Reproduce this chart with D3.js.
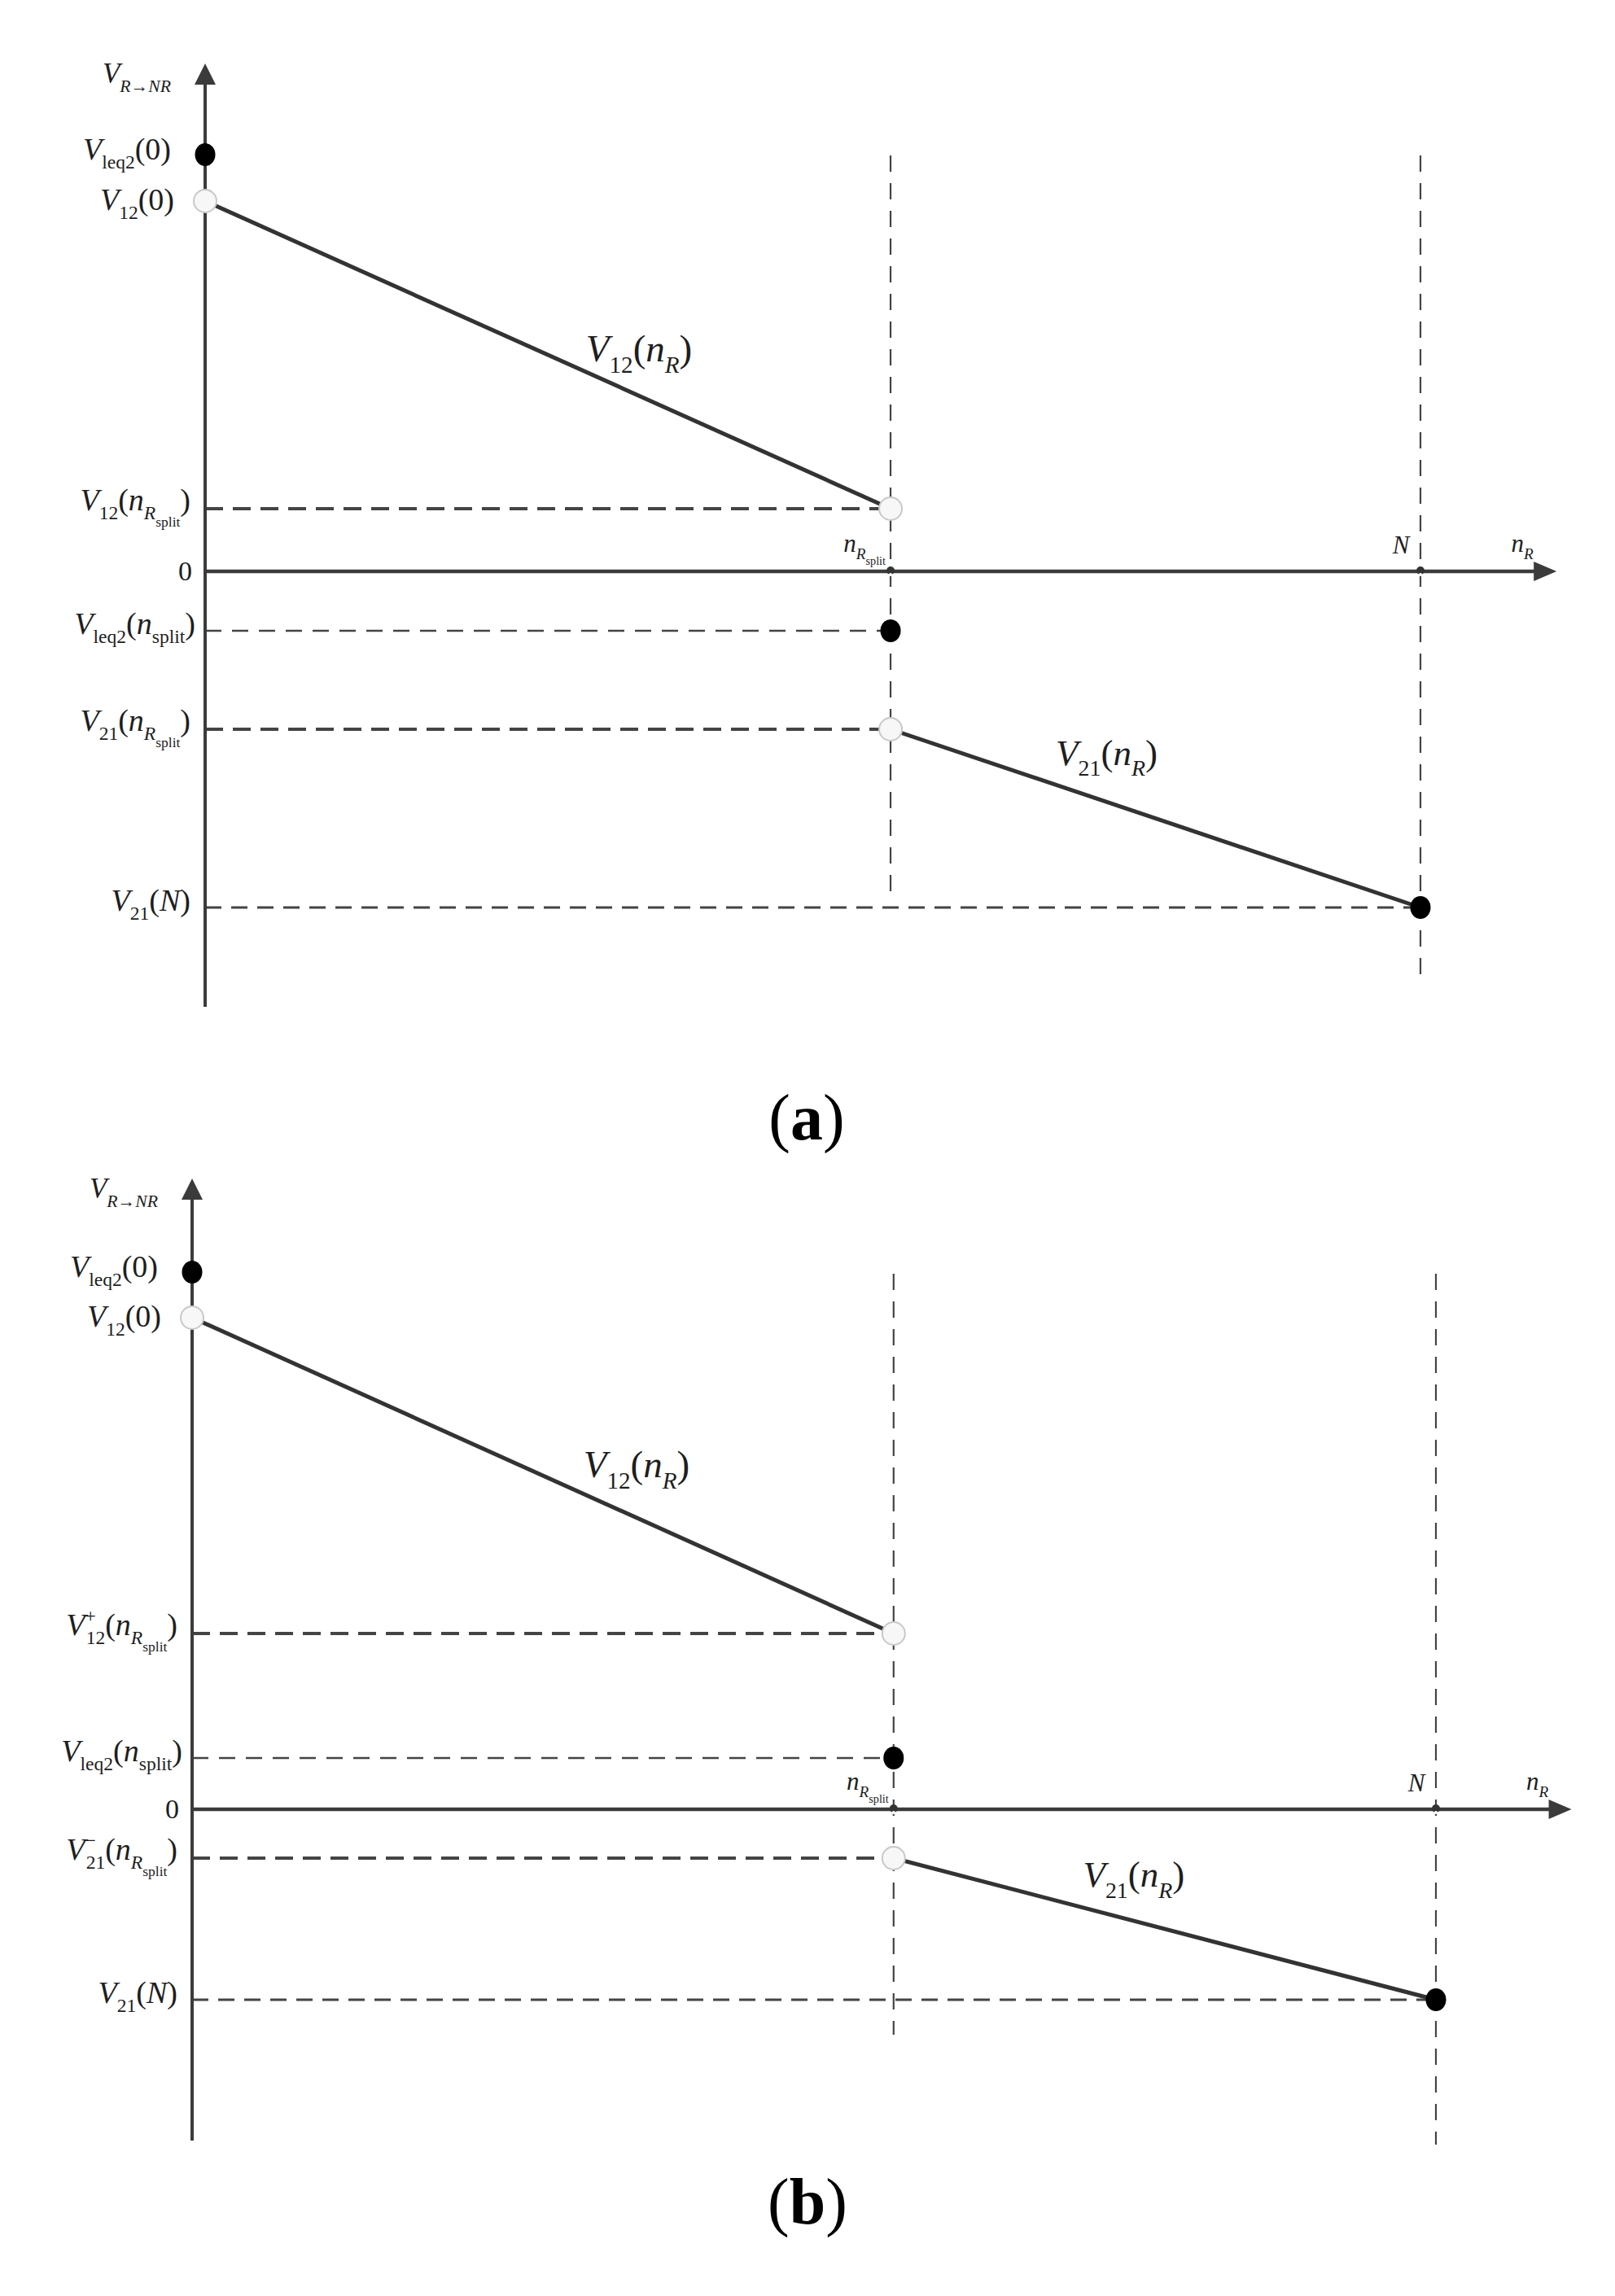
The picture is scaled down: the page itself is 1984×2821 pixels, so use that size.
<!DOCTYPE html>
<html>
<head>
<meta charset="utf-8">
<script src="https://cdn.jsdelivr.net/npm/d3@7"></script>
<style>
  html, body { margin: 0; padding: 0; background: #ffffff; }
  svg { display: block; }
</style>
</head>
<body>
<script>
// ---------------- DATA (n axis normalised so N = 100) ----------------
const panelIds      = ["a", "b"];
const nSplit        = [56.4, 56.4];     // n_R split position
const nEnd          = [100, 100];       // N
const xAxisEnd      = [111.2, 110.9];   // end of the n_R axis arrow
const v12At0        = [4.55, 6.04];     // V12(0)        (open circle)
const vLeq2At0      = [5.12, 6.60];     // V_leq2(0)     (filled circle)
const v12AtSplit    = [0.77, 2.16];     // V12(n_Rsplit) (open circle)
const vLeq2AtSplit  = [-0.73, 0.63];    // V_leq2(n_split) (filled circle)
const v21AtSplit    = [-1.94, -0.60];   // V21(n_Rsplit) (open circle)
const v21AtN        = [-4.13, -2.34];   // V21(N)        (filled circle)
const yAxisExtent   = [[-5.35, 6.24], [-4.07, 7.75]];  // bottom / arrow tip of vertical axis
const guideTop      = [5.11, 6.58];     // top of the vertical dashed guides
const splitGuideBot = [-4.02, -2.77];
const endGuideBot   = [-5.01, -4.12];
const captions      = ["a", "b"];

// ---------------- LAYOUT ----------------
const W = 1984, H = 2821;
const xRanges = [[252, 1745], [236, 1764]];
const yRanges = [[1237, 78], [2630, 1448]];
const captionPos = [[991, 1400], [992, 2732]];
const v12LabelShift = [[112, 8], [115, 2]];
const v21LabelShift = [[-60, -66], [-38, -52]];

const AX = "#3b3b3b", LINE = "#333333", TXT = "#1e1e1e";
const FONT = "'Liberation Serif','Times New Roman',Times,serif";

const svg = d3.select("body").append("svg").attr("width", W).attr("height", H);
svg.append("rect").attr("width", W).attr("height", H).attr("fill", "#fff");

function mathText(sel, x, y, tokens, size, anchor) {
  const t = sel.append("text")
    .attr("x", x).attr("y", y)
    .attr("text-anchor", anchor || "end")
    .attr("fill", TXT)
    .style("font-family", FONT)
    .attr("font-size", size);
  const off = { 0: 0, sub: 0.30, subsub: 0.52, sup: -0.42 };
  const sc  = { 0: 1, sub: 0.62, subsub: 0.46, sup: 0.62 };
  let cur = 0;
  tokens.forEach(([txt, st, lv, dx]) => {
    const target = off[lv] * size;
    const ts = t.append("tspan").text(txt)
      .attr("dy", (target - cur).toFixed(2))
      .attr("font-size", (sc[lv] * size).toFixed(2))
      .attr("font-style", st === "i" ? "italic" : "normal");
    if (dx) ts.attr("dx", (dx * size).toFixed(2));
    cur = target;
  });
  return t;
}

// label token sets
const L = {
  yAxis:   [["V","i",0],["R→NR","i","sub"]],
  vLeq2_0: [["V","i",0],["leq2","r","sub"],["(0)","r",0]],
  v12_0:   [["V","i",0],["12","r","sub"],["(0)","r",0]],
  v12s: (i) => i === 0
    ? [["V","i",0],["12","r","sub"],["(","r",0],["n","i",0],["R","i","sub"],["split","r","subsub"],[")","r",0]]
    : [["V","i",0],["+","r","sup"],["12","r","sub",-0.32],["(","r",0],["n","i",0],["R","i","sub"],["split","r","subsub"],[")","r",0]],
  vLeq2s:  [["V","i",0],["leq2","r","sub"],["(","r",0],["n","i",0],["split","r","sub"],[")","r",0]],
  v21s: (i) => i === 0
    ? [["V","i",0],["21","r","sub"],["(","r",0],["n","i",0],["R","i","sub"],["split","r","subsub"],[")","r",0]]
    : [["V","i",0],["−","r","sup"],["21","r","sub",-0.32],["(","r",0],["n","i",0],["R","i","sub"],["split","r","subsub"],[")","r",0]],
  v21N:    [["V","i",0],["21","r","sub"],["(","r",0],["N","i",0],[")","r",0]],
  v12n:    [["V","i",0],["12","r","sub"],["(","r",0],["n","i",0],["R","i","sub"],[")","r",0]],
  v21n:    [["V","i",0],["21","r","sub"],["(","r",0],["n","i",0],["R","i","sub"],[")","r",0]],
  nSplit:  [["n","i",0],["R","i","sub"],["split","r","subsub"]],
  N:       [["N","i",0]],
  nR:      [["n","i",0],["R","i","sub"]]
};

panelIds.forEach((pid, i) => {
  const g = svg.append("g").attr("class", "panel-" + pid);
  const x = d3.scaleLinear().domain([0, nEnd[i]]).range(xRanges[i]);
  const y = d3.scaleLinear().domain(yAxisExtent[i]).range(yRanges[i]);
  const x0 = x(0), y0 = y(0);

  // vertical dashed guides
  [[nSplit[i], splitGuideBot[i]], [nEnd[i], endGuideBot[i]]].forEach(([n, bot]) => {
    g.append("line")
      .attr("x1", x(n)).attr("x2", x(n))
      .attr("y1", y(guideTop[i])).attr("y2", y(bot))
      .attr("stroke", "#444").attr("stroke-width", 2.2)
      .attr("stroke-dasharray", "20,14");
  });

  // horizontal dashed guides
  const hGuides = [
    { v: v12AtSplit[i],   n: nSplit[i], w: 4,   dash: "22,12" },
    { v: vLeq2AtSplit[i], n: nSplit[i], w: 2.6, dash: "20,13" },
    { v: v21AtSplit[i],   n: nSplit[i], w: 4,   dash: "22,12" },
    { v: v21AtN[i],       n: nEnd[i],   w: 3.2, dash: "20,12" }
  ];
  hGuides.forEach(h => {
    g.append("line")
      .attr("x1", x0).attr("x2", x(h.n))
      .attr("y1", y(h.v)).attr("y2", y(h.v))
      .attr("stroke", "#444").attr("stroke-width", h.w)
      .attr("stroke-dasharray", h.dash);
  });

  // vertical axis with arrow
  const yTop = y(yAxisExtent[i][1]);
  g.append("line")
    .attr("x1", x0).attr("x2", x0)
    .attr("y1", y(yAxisExtent[i][0])).attr("y2", yTop + 20)
    .attr("stroke", AX).attr("stroke-width", 4);
  g.append("path")
    .attr("d", `M${x0},${yTop} L${x0 - 13},${yTop + 26} L${x0 + 13},${yTop + 26} Z`)
    .attr("fill", AX);

  // horizontal axis with arrow
  const xTip = x(xAxisEnd[i]);
  g.append("line")
    .attr("x1", x0).attr("x2", xTip - 22)
    .attr("y1", y0).attr("y2", y0)
    .attr("stroke", AX).attr("stroke-width", 4.5);
  g.append("path")
    .attr("d", `M${xTip},${y0} L${xTip - 28},${y0 - 12} L${xTip - 28},${y0 + 12} Z`)
    .attr("fill", AX);

  // tick bumps at n_Rsplit and N
  [nSplit[i], nEnd[i]].forEach(n => {
    g.append("circle").attr("cx", x(n)).attr("cy", y0 - 1).attr("r", 5).attr("fill", "#333");
    g.append("circle").attr("cx", x(n)).attr("cy", y0 + 4).attr("r", 2).attr("fill", "#fff");
  });

  // function lines
  const line = d3.line().x(d => x(d[0])).y(d => y(d[1]));
  g.append("path").datum([[0, v12At0[i]], [nSplit[i], v12AtSplit[i]]])
    .attr("d", line).attr("fill", "none").attr("stroke", LINE).attr("stroke-width", 5);
  g.append("path").datum([[nSplit[i], v21AtSplit[i]], [nEnd[i], v21AtN[i]]])
    .attr("d", line).attr("fill", "none").attr("stroke", LINE).attr("stroke-width", 5);

  // dots
  const openDots = [[0, v12At0[i]], [nSplit[i], v12AtSplit[i]], [nSplit[i], v21AtSplit[i]]];
  const filledDots = [[0, vLeq2At0[i]], [nSplit[i], vLeq2AtSplit[i]], [nEnd[i], v21AtN[i]]];
  g.selectAll(".open").data(openDots).enter().append("circle")
    .attr("cx", d => x(d[0])).attr("cy", d => y(d[1])).attr("r", 14)
    .attr("fill", "#f7f7f7").attr("stroke", "#c8c8c8").attr("stroke-width", 2);
  g.selectAll(".filled").data(filledDots).enter().append("ellipse")
    .attr("cx", d => x(d[0])).attr("cy", d => y(d[1])).attr("rx", 12.5).attr("ry", 14)
    .attr("fill", "#000");

  // vertical-axis labels
  const fs = 38;
  mathText(g, x0 - 42, yTop + 24, L.yAxis, 35, "end");
  mathText(g, x0 - 42, y(vLeq2At0[i]) + 6, L.vLeq2_0, fs, "end");
  mathText(g, x0 - 38, y(v12At0[i]) + 11, L.v12_0, fs, "end");
  mathText(g, x0 - 18, y(v12AtSplit[i]) + 2, L.v12s(i), fs, "end");
  mathText(g, x0 - 12, y(vLeq2AtSplit[i]) + 4, L.vLeq2s, fs, "end");
  mathText(g, x0 - 18, y(v21AtSplit[i]) + 2, L.v21s(i), fs, "end");
  mathText(g, x0 - 18, y(v21AtN[i]) + 4, L.v21N, fs, "end");
  g.append("text").attr("x", x0 - 16).attr("y", y0 + 11).attr("text-anchor", "end")
    .style("font-family", FONT).attr("font-size", 34).attr("fill", TXT).text("0");

  // horizontal-axis labels
  mathText(g, x(nSplit[i]) - 6, y0 - 24, L.nSplit, 31, "end");
  mathText(g, x(nEnd[i]) - 24, y0 - 22, L.N, 31, "middle");
  mathText(g, xTip - 42, y0 - 24, L.nR, 31, "middle");

  // curve labels
  const mid12 = [(0 + nSplit[i]) / 2, (v12At0[i] + v12AtSplit[i]) / 2];
  const mid21 = [(nSplit[i] + nEnd[i]) / 2, (v21AtSplit[i] + v21AtN[i]) / 2];
  mathText(g, x(mid12[0]) + v12LabelShift[i][0], y(mid12[1]) + v12LabelShift[i][1], L.v12n, 47, "middle");
  mathText(g, x(mid21[0]) + v21LabelShift[i][0], y(mid21[1]) + v21LabelShift[i][1], L.v21n, 45, "middle");

  // caption
  const cap = g.append("text")
    .attr("x", captionPos[i][0]).attr("y", captionPos[i][1])
    .attr("text-anchor", "middle").attr("fill", "#000")
    .style("font-family", FONT).attr("font-size", 80);
  cap.append("tspan").text("(");
  cap.append("tspan").attr("font-weight", "bold").text(captions[i]);
  cap.append("tspan").text(")");
});
</script>
</body>
</html>
